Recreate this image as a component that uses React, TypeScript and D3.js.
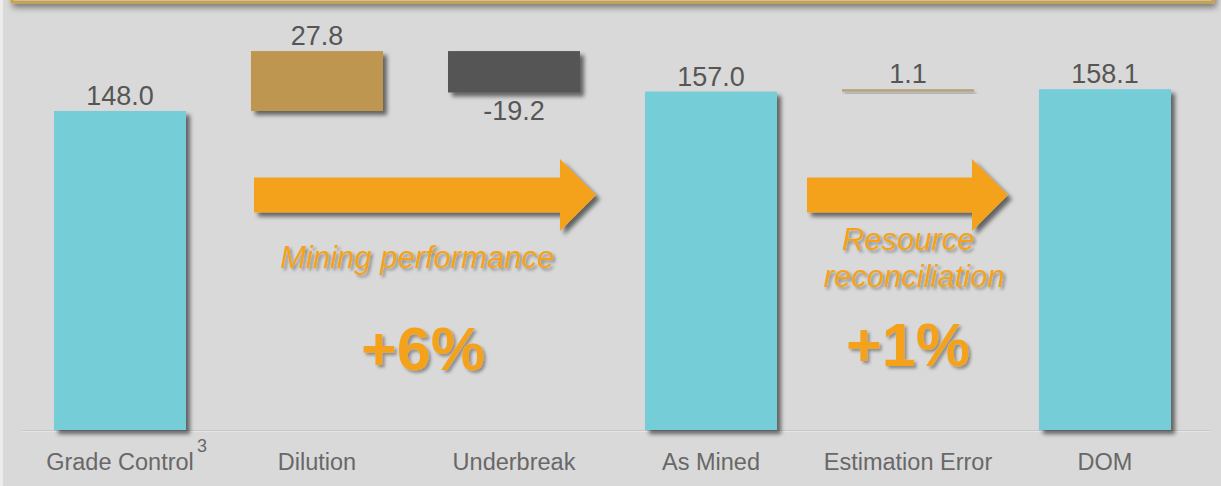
import React from "react";
import * as d3 from "d3";

const categories = ["Grade Control", "Dilution", "Underbreak", "As Mined", "Estimation Error", "DOM"];
const deltas = [148.0, 27.8, -19.2, null, 1.1, null];
const totals = [true, false, false, true, false, true];
const valueLabels = ["148.0", "27.8", "-19.2", "157.0", "1.1", "158.1"];
const totalValues = [148.0, null, null, 157.0, null, 158.1];

const W = 1221;
const H = 486;
const FONT = "'Liberation Sans', Arial, sans-serif";
const ORANGE = "#F4A21F";

type Seg = { cat: string; y0: number; y1: number; kind: string; label: string };

function buildSegments(): Seg[] {
  let run = 0;
  const out: Seg[] = [];
  categories.forEach((c, i) => {
    if (totals[i]) {
      const v = totalValues[i] as number;
      run = v;
      out.push({ cat: c, y0: 0, y1: v, kind: "total", label: valueLabels[i] });
    } else {
      const d = deltas[i] as number;
      const start = run;
      run = run + d;
      out.push({ cat: c, y0: start, y1: run, kind: d >= 0 ? (d < 2 ? "small" : "up") : "down", label: valueLabels[i] });
    }
  });
  return out;
}

export default function App() {
  const segs = buildSegments();
  const x = d3.scaleBand<string>().domain(categories).range([21.5, 1203.5]).paddingInner(0.33).paddingOuter(0.165);
  const y = d3.scaleLinear().domain([0, 148]).range([430, 111]);
  const bw = x.bandwidth();

  const fillFor = (k: string) =>
    k === "total" ? "#74CDD8" : k === "up" ? "#BF964F" : k === "down" ? "#545454" : "#B7A07A";

  const arrow = (x0: number, x1: number, cy: number) => {
    const sh = 17.5;
    const hh = 36;
    const hl = 36;
    const p = d3.path();
    p.moveTo(x0, cy - sh);
    p.lineTo(x1 - hl, cy - sh);
    p.lineTo(x1 - hl, cy - hh);
    p.lineTo(x1, cy);
    p.lineTo(x1 - hl, cy + hh);
    p.lineTo(x1 - hl, cy + sh);
    p.lineTo(x0, cy + sh);
    p.closePath();
    return p.toString();
  };

  const xd = x("Dilution") as number;
  const xa = x("As Mined") as number;
  const xe = x("Estimation Error") as number;
  const xm = x("DOM") as number;

  return (
    <svg width={W} height={H} style={{ position: "absolute", left: 0, top: 0 }} xmlns="http://www.w3.org/2000/svg">
      <defs>
        <filter id="sh" x="-20%" y="-20%" width="150%" height="150%">
          <feDropShadow dx="4" dy="4" stdDeviation="2.2" floodColor="#000" floodOpacity="0.55" />
        </filter>
        <filter id="shs" x="-20%" y="-50%" width="150%" height="250%">
          <feDropShadow dx="2" dy="3" stdDeviation="1.5" floodColor="#000" floodOpacity="0.3" />
        </filter>
        <filter id="tsh" x="-20%" y="-20%" width="150%" height="150%">
          <feDropShadow dx="2.5" dy="2.5" stdDeviation="1.5" floodColor="#000" floodOpacity="0.35" />
        </filter>
        <filter id="top" x="-5%" y="-50%" width="110%" height="250%">
          <feDropShadow dx="2" dy="4" stdDeviation="3" floodColor="#000" floodOpacity="0.45" />
        </filter>
      </defs>
      <rect x={0} y={0} width={W} height={H} fill="#D9D9D9" />
      <rect x={0} y={0} width={3} height={H} fill="#ECECEC" />
      <rect x={12} y={-30} width={1201} height={32} fill="#D9D9D9" stroke="#C9A14C" strokeWidth={3} filter="url(#top)" />

      {/* baseline */}
      <line x1={21.5} x2={1210} y1={y(0) + 0.5} y2={y(0) + 0.5} stroke="#C6C6C6" strokeWidth={1} />
      <line x1={21.5} x2={1210} y1={y(0) + 1.5} y2={y(0) + 1.5} stroke="#E6E6E6" strokeWidth={1} />

      {/* bars */}
      {segs.map((s) => {
        const top = y(Math.max(s.y0, s.y1));
        const bot = y(Math.min(s.y0, s.y1));
        const bx = x(s.cat) as number;
        return (
          <rect
            key={s.cat}
            x={bx}
            y={top}
            width={bw}
            height={Math.max(bot - top, 1.5)}
            fill={fillFor(s.kind)}
            filter={s.kind === "small" ? "url(#shs)" : "url(#sh)"}
          />
        );
      })}

      {/* value labels */}
      {segs.map((s) => {
        const cx = (x(s.cat) as number) + bw / 2;
        const isDown = s.kind === "down";
        const ty = isDown ? y(Math.min(s.y0, s.y1)) + 28 : y(Math.max(s.y0, s.y1)) - 6;
        return (
          <text key={"v" + s.cat} x={cx} y={ty} textAnchor="middle" fontFamily={FONT} fontSize={27} fill="#565656">
            {s.label}
          </text>
        );
      })}

      {/* category labels */}
      {categories.map((c) => (
        <text key={"c" + c} x={(x(c) as number) + bw / 2} y={470} textAnchor="middle" fontFamily={FONT} fontSize={23.5} fill="#686868">
          {c}
        </text>
      ))}
      <text x={(x("Grade Control") as number) + bw / 2 + 77} y={452} fontFamily={FONT} fontSize={18} fill="#686868">
        3
      </text>

      {/* arrows */}
      <path d={arrow(xd + 3, xa - 49, 195)} fill={ORANGE} filter="url(#sh)" />
      <path d={arrow(xe - 35, xm - 31, 195)} fill={ORANGE} filter="url(#sh)" />

      {/* annotations */}
      <g fontFamily={FONT} fill={ORANGE} filter="url(#tsh)" textAnchor="middle">
        <text x={417} y={268} fontSize={31} fontStyle="italic">Mining performance</text>
        <text x={423} y={370} fontSize={61} fontWeight="bold">+6%</text>
        <text x={908} y={250} fontSize={31} fontStyle="italic">Resource</text>
        <text x={914} y={287} fontSize={31} fontStyle="italic">reconciliation</text>
        <text x={908} y={366} fontSize={61} fontWeight="bold">+1%</text>
      </g>
    </svg>
  );
}
